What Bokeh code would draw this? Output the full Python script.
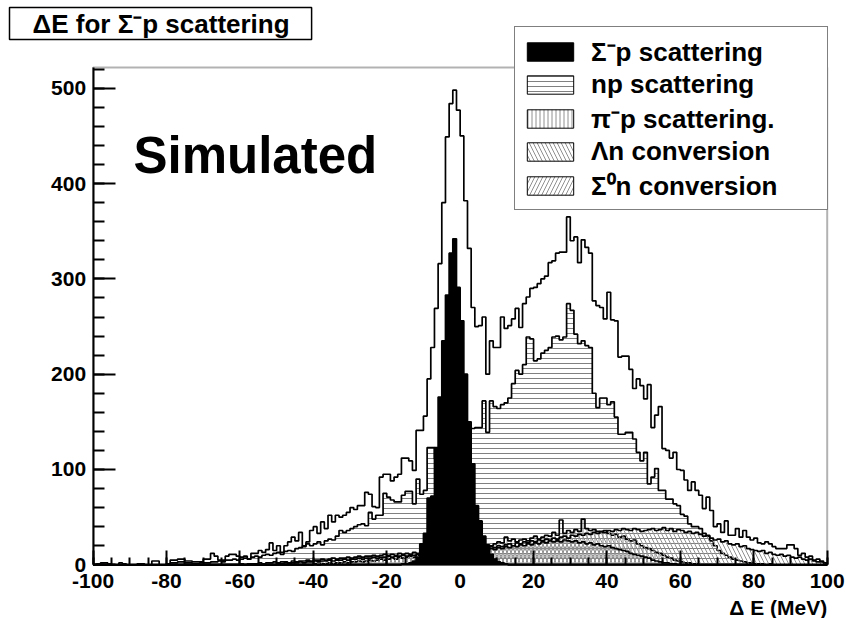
from bokeh.plotting import figure
from bokeh.models import Range1d, FixedTicker, Label, Legend, LegendItem, BoxAnnotation
from bokeh.embed import file_html
from bokeh.resources import INLINE

# ---------------- data (1 MeV bins from -100 to 100) ----------------
X_LO, X_HI = -100, 100
Y_TOP = 521.8
bin_edges = list(range(X_LO, X_HI + 1))

x_ticks = [-100, -80, -60, -40, -20, 0, 20, 40, 60, 80, 100]
x_minor_ticks = list(range(-100, 101, 5))
y_ticks = [0, 100, 200, 300, 400, 500]
y_minor_ticks = list(range(0, 521, 20))

# all simulated events (outer outline)
total_neg = [0, 1, 2, 2, 1, 0, 0, 2, 1, 0,
             0, 0, 1, 1, 0, 0, 4, 4, 0, 0,
             1, 5, 5, 6, 6, 4, 4, 3, 3, 3,
             6, 6, 12, 9, 5, 5, 9, 11, 11, 9,
             8, 9, 6, 12, 12, 15, 13, 16, 23, 15,
             20, 13, 20, 24, 29, 25, 34, 19, 24, 36,
             40, 33, 45, 38, 52, 45, 52, 50, 52, 55,
             60, 58, 62, 62, 76, 74, 61, 60, 92, 95,
             95, 88, 92, 95, 112, 112, 109, 99, 141, 141,
             156, 195, 228, 269, 316, 380, 449, 484, 498, 477]
total_pos = [450, 382, 332, 270, 250, 251, 260, 200, 235, 228,
             228, 260, 248, 251, 258, 269, 249, 274, 281, 290,
             291, 295, 300, 303, 317, 319, 327, 328, 328, 365,
             340, 344, 317, 341, 333, 327, 277, 272, 270, 258,
             286, 257, 256, 218, 219, 219, 205, 185, 195, 188,
             174, 189, 144, 157, 166, 122, 120, 112, 118, 100,
             99, 89, 78, 87, 78, 73, 59, 71, 57, 40,
             43, 34, 46, 31, 31, 38, 29, 36, 29, 26,
             28, 23, 22, 24, 22, 19, 17, 17, 17, 21,
             21, 17, 10, 12, 8, 9, 5, 6, 4, 2]
total_counts = total_neg + total_pos

# Sigma- p scattering (black)
sigm_neg = [0] * 84 + [1, 1, 2, 4, 8, 22, 33, 70, 72, 123, 176, 235, 283, 327, 342, 291]
sigm_pos = [256, 200, 150, 106, 62, 46, 30, 20, 11, 6, 3, 2, 1] + [0] * 87
sigm_p_counts = sigm_neg + sigm_pos

# n p scattering (horizontal hatch)
np_neg = [0] * 20 + [1, 2, 2, 3, 3, 2, 2, 1, 1, 2,
                     2, 2, 3, 3, 4, 3, 5, 5, 6, 5,
                     6, 7, 6, 8, 9, 8, 10, 11, 10, 12,
                     13, 11, 14, 15, 14, 17, 18, 20, 22, 20,
                     22, 24, 21, 25, 27, 26, 30, 36, 34, 36,
                     38, 40, 42, 43, 41, 55, 48, 52, 52, 75,
                     71, 68, 66, 66, 73, 77, 77, 64, 90, 74,
                     78, 123, 123, 111, 105, 110, 125, 118, 118, 140]
np_pos = [150, 140, 138, 143, 144, 144, 172, 139, 172, 166,
          164, 168, 170, 175, 190, 204, 200, 210, 239, 237,
          214, 216, 222, 225, 228, 239, 240, 236, 239, 274,
          267, 242, 232, 235, 230, 228, 180, 165, 175, 175,
          168, 171, 155, 137, 137, 139, 139, 132, 118, 109,
          118, 85, 92, 101, 78, 78, 69, 69, 64, 62,
          53, 51, 43, 40, 40, 38, 33, 30, 25, 20,
          15, 12, 10, 8, 6, 5, 4, 3, 2, 2,
          1, 1, 1, 0, 1, 0, 0, 0, 0, 0] + [0] * 10
np_counts = np_neg + np_pos

# pi- p scattering (vertical hatch)
pip_neg = [0] * 40 + [1, 0, 1, 1, 1, 2, 1, 2, 2, 3,
                      2, 3, 3, 2, 4, 3, 4, 4, 5, 4,
                      5, 5, 6, 5, 6, 7, 6, 7, 7, 8,
                      7, 8, 9, 8, 9, 9, 10, 9, 10, 11,
                      10, 11, 10, 12, 11, 12, 11, 13, 12, 13,
                      12, 13, 14, 13, 14, 13, 15, 14, 15, 16]
pip_pos = [15, 17, 16, 18, 17, 19, 18, 21, 20, 22,
           24, 23, 29, 25, 27, 24, 26, 27, 25, 28,
           30, 27, 29, 31, 30, 34, 31, 47, 33, 36,
           34, 37, 35, 48, 38, 36, 37, 35, 34, 36,
           33, 31, 32, 29, 30, 27, 25, 26, 22, 20,
           18, 17, 15, 13, 12, 10, 8, 7, 5, 4,
           3, 2, 2, 1, 1, 0, 0, 0, 0, 0] + [0] * 30
pip_counts = pip_neg + pip_pos

# Lambda n conversion (\\ hatch)
lam_neg = [0] * 60 + [1, 0, 1, 1, 2, 1, 2, 2, 3, 2,
                      3, 3, 4, 3, 4, 5, 4, 5, 6, 5,
                      6, 7, 6, 8, 7, 8, 9, 8, 10, 9,
                      11, 10, 12, 11, 12, 13, 12, 14, 13, 14]
lam_pos = [15, 14, 16, 15, 17, 16, 18, 17, 19, 18,
           20, 19, 21, 22, 20, 23, 22, 24, 23, 25,
           24, 26, 25, 27, 26, 28, 27, 29, 30, 28,
           31, 30, 32, 31, 33, 32, 34, 33, 35, 34,
           36, 35, 37, 36, 38, 37, 36, 38, 37, 35,
           36, 37, 38, 36, 37, 39, 36, 38, 35, 37,
           36, 34, 35, 33, 34, 32, 30, 31, 28, 26,
           27, 24, 25, 22, 21, 22, 19, 20, 17, 16,
           15, 14, 15, 12, 13, 11, 10, 11, 9, 10,
           8, 7, 8, 6, 5, 6, 4, 3, 3, 2]
lam_counts = lam_neg + lam_pos

# Sigma0 n conversion (// hatch)
sig0_neg = [0] * 50 + [1, 1, 2, 1, 2, 2, 3, 2, 3, 3,
                       4, 3, 4, 4, 5, 4, 5, 5, 6, 5,
                       6, 6, 7, 6, 7, 7, 8, 7, 8, 8,
                       9, 8, 9, 9, 10, 9, 10, 10, 11, 10,
                       11, 11, 12, 11, 12, 12, 13, 12, 13, 13]
sig0_pos = [14, 13, 14, 15, 14, 15, 16, 15, 17, 16,
            18, 17, 19, 18, 20, 19, 21, 20, 22, 21,
            23, 22, 24, 23, 25, 24, 25, 24, 26, 25,
            24, 25, 23, 24, 22, 23, 21, 22, 20, 19,
            20, 18, 17, 16, 15, 14, 12, 11, 10, 9,
            8, 7, 5, 4, 3, 2, 2, 1, 1, 0] + [0] * 40
sig0_counts = sig0_neg + sig0_pos

labels = ["\u03a3\u207bp scattering", "np scattering", "\u03c0\u207bp scattering.",
          "\u039bn conversion", "\u03a3\u2070n conversion"]

# ---------------- layout (canvas = frame; axes are pinned inside) ----------------
W, H = 846, 618
FRAME_L, FRAME_R, FRAME_T, FRAME_B = 92.6, 826.7, 67.0, 564.3
sx = (FRAME_R - FRAME_L) / (X_HI - X_LO)
sy = (FRAME_B - FRAME_T) / Y_TOP
x_range = Range1d(X_LO - FRAME_L / sx, X_HI + (W - FRAME_R) / sx)
y_range = Range1d(-(H - FRAME_B) / sy, FRAME_B / sy)

FONT = "Liberation Sans"
p = figure(width=W, height=H, output_backend="svg", toolbar_location=None,
           x_range=x_range, y_range=y_range, min_border=0)
p.background_fill_color = "white"
p.border_fill_color = "white"
p.outline_line_color = None
p.xgrid.visible = False
p.ygrid.visible = False


def step_path(counts):
    xs, ys = [bin_edges[0]], [0]
    for i, c in enumerate(counts):
        xs += [bin_edges[i], bin_edges[i + 1]]
        ys += [c, c]
    xs.append(bin_edges[-1])
    ys.append(0)
    return xs, ys


LINE_W = 1.7


def draw_hist(counts, fill_color=None, hatch=None, hatch_scale=6, hatch_color="#808080"):
    y2 = counts + [counts[-1]]
    kw = dict(x=bin_edges, y1=[0] * len(bin_edges), y2=y2, step_mode="after")
    if fill_color is not None:
        p.varea_step(fill_color=fill_color, **kw)
    if hatch is not None:
        p.varea_step(fill_color=None, hatch_pattern=hatch, hatch_color=hatch_color,
                     hatch_scale=hatch_scale, hatch_weight=1, **kw)
    xs, ys = step_path(counts)
    p.line(xs, ys, line_color="black", line_width=LINE_W)


xs, ys = step_path(total_counts)
p.line(xs, ys, line_color="black", line_width=LINE_W)
draw_hist(np_counts, hatch="horizontal_line", hatch_scale=5)
draw_hist(pip_counts, hatch="vertical_line", hatch_scale=4, hatch_color="#909090")
draw_hist(lam_counts, hatch="left_diagonal_line", hatch_scale=8, hatch_color="#909090")
draw_hist(sig0_counts, hatch="right_diagonal_line", hatch_scale=8, hatch_color="#909090")
draw_hist(sigm_p_counts, fill_color="black")

# frame of the histogram area
p.add_layout(BoxAnnotation(left=X_LO, right=X_HI, bottom=0, top=Y_TOP,
                           fill_alpha=0, line_color="black", line_width=2))

# ---------------- axes ----------------
for ax in (p.xaxis, p.yaxis):
    ax.axis_line_color = "black"
    ax.axis_line_width = 2
    ax.major_tick_line_width = 2
    ax.minor_tick_line_width = 2
    ax.major_tick_out = 0
    ax.minor_tick_out = 0
    ax.major_label_text_font = FONT
    ax.major_label_text_font_style = "bold"
    ax.major_label_text_font_size = "21px"
    ax.major_label_text_color = "black"

p.xaxis.fixed_location = 0
p.yaxis.fixed_location = X_LO
p.xaxis.bounds = (X_LO, X_HI)
p.yaxis.bounds = (0, Y_TOP)
p.xaxis.ticker = FixedTicker(ticks=x_ticks, minor_ticks=x_minor_ticks)
p.yaxis.ticker = FixedTicker(ticks=y_ticks, minor_ticks=y_minor_ticks)
p.xaxis.major_label_overrides = {t: str(t) for t in x_ticks}
p.yaxis.major_label_overrides = {t: str(t) for t in y_ticks}
p.xaxis.major_tick_in = 14
p.xaxis.minor_tick_in = 7
p.yaxis.major_tick_in = 22
p.yaxis.minor_tick_in = 11
p.xaxis.major_label_standoff = 9
p.yaxis.major_label_standoff = 7

# ---------------- legend ----------------
styles = [
    dict(fill_color="black"),
    dict(fill_color="white", hatch_pattern="horizontal_line", hatch_scale=5, hatch_color="#808080"),
    dict(fill_color="white", hatch_pattern="vertical_line", hatch_scale=4, hatch_color="#909090"),
    dict(fill_color="white", hatch_pattern="left_diagonal_line", hatch_scale=8, hatch_color="#909090"),
    dict(fill_color="white", hatch_pattern="right_diagonal_line", hatch_scale=8, hatch_color="#909090"),
]
series = [sigm_p_counts, np_counts, pip_counts, lam_counts, sig0_counts]
items = []
for lab, st, counts in zip(labels, styles, series):
    r = p.quad(left=bin_edges[:-1], right=bin_edges[1:], top=counts, bottom=[0] * len(counts),
               line_color="black", line_width=1, **st)
    r.visible = False
    items.append(LegendItem(label=lab, renderers=[r]))

legend = Legend(items=items, location=(514, H - 210), glyph_width=58, glyph_height=23,
                label_standoff=12, label_text_font=FONT, label_text_font_size="26px",
                label_text_font_style="bold", label_text_color="black",
                label_width=230, label_height=23,
                padding=6, spacing=0, margin=0,
                inactive_fill_alpha=0.0,
                border_line_color="black", border_line_width=1.5,
                background_fill_color="white", background_fill_alpha=1.0)
p.add_layout(legend)

# ---------------- texts ----------------
title = Label(x=9, y=H - 23, x_units="screen", y_units="screen",
              text="\u0394E for \u03a3\u207bp scattering", text_font=FONT, text_color="black",
              text_font_style="bold", text_font_size="26px", text_baseline="middle",
              text_align="left", border_line_color="black", border_line_width=1.5,
              background_fill_color="white",
              padding=dict(left=23, right=22, top=1, bottom=1))
p.add_layout(title)

sim = Label(x=-89, y=(FRAME_B - 155) / sy, text="Simulated", text_font=FONT, text_color="black",
            text_font_style="bold", text_font_size="51px", text_baseline="middle",
            text_align="left")
p.add_layout(sim)

xlab = Label(x=FRAME_R, y=H - 607, x_units="screen", y_units="screen", text="\u0394 E (MeV)",
             text_font=FONT, text_font_style="bold", text_font_size="21px", text_color="black",
             text_align="right", text_baseline="middle")
p.add_layout(xlab)

open("out.html", "w").write(file_html(p, INLINE))
